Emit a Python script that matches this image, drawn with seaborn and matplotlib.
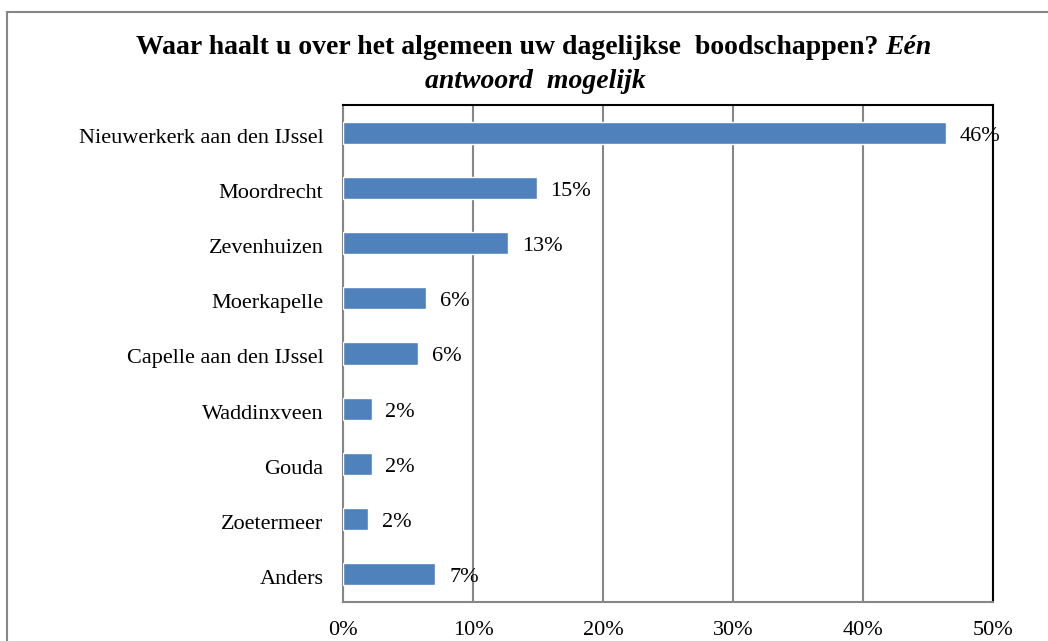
import matplotlib
matplotlib.use("Agg")
import matplotlib.pyplot as plt
import seaborn as sns
import pandas as pd
from matplotlib.patches import Rectangle
from matplotlib.transforms import ScaledTranslation

categories = ["Nieuwerkerk aan den IJssel", "Moordrecht", "Zevenhuizen", "Moerkapelle",
              "Capelle aan den IJssel", "Waddinxveen", "Gouda", "Zoetermeer", "Anders"]
values = [46.4, 14.9, 12.7, 6.4, 5.8, 2.2, 2.2, 1.9, 7.1]
labels = ["46%", "15%", "13%", "6%", "6%", "2%", "2%", "2%", "7%"]
xticks = [0, 10, 20, 30, 40, 50]
xticklabels = ["0%", "10%", "20%", "30%", "40%", "50%"]

df = pd.DataFrame({"cat": categories, "val": values})

sns.set_style("white")
plt.rcParams['font.family'] = ['Liberation Serif', 'DejaVu Serif']
plt.rcParams['text.color'] = 'black'
plt.rcParams['xtick.color'] = 'black'
plt.rcParams['ytick.color'] = 'black'
plt.rcParams['xtick.labelcolor'] = 'black'
plt.rcParams['ytick.labelcolor'] = 'black'

W, H = 1048, 641
fig = plt.figure(figsize=(W / 100, H / 100), dpi=100)
ax = fig.add_axes([343 / W, 1 - 602 / H, (993 - 343) / W, (602 - 105) / H])

sns.barplot(data=df, x="val", y="cat", orient="h", color="#4F81BD", width=0.4,
            saturation=1, ax=ax, zorder=3)

ax.set_xlim(0, 50)
ax.set_ylim(8.5, -0.5)
ax.set_xticks(xticks)
ax.set_xticklabels(xticklabels, fontsize=16)
ax.tick_params(axis="x", pad=14, length=0, labelcolor="black")
ax.tick_params(axis="y", pad=14, length=0, labelsize=16, labelcolor="black")
ax.set_xlabel("")
ax.set_ylabel("")
ax.set_axisbelow(True)
ax.grid(axis="x", color="#868686", linewidth=1.5)
ax.grid(axis="y", visible=False)
for side in ["left", "bottom"]:
    ax.spines[side].set_color("#868686")
    ax.spines[side].set_linewidth(1.5)
for side in ["top", "right"]:
    ax.spines[side].set_color("black")
    ax.spines[side].set_linewidth(1.5)

# nudge y tick labels slightly down
offset = ScaledTranslation(0, -3 / 100, fig.dpi_scale_trans)
for lbl in ax.get_yticklabels():
    lbl.set_transform(lbl.get_transform() + offset)

for i, (v, lab) in enumerate(zip(values, labels)):
    ax.annotate(lab, xy=(v, i), xytext=(10, -2.5), textcoords="offset points",
                va="center", ha="left", fontsize=16, color="black")

# outer chart frame
fig.patches.append(Rectangle((7 / W, -0.1), 1.2, 1 - 12 / H + 0.1, transform=fig.transFigure,
                             fill=False, edgecolor="#868686", linewidth=1.5))

# title with mixed styling
ty1 = 1 - 48 / H
t1 = fig.text(0, ty1, "Waar haalt u over het algemeen uw dagelijkse  boodschappen? ",
              fontsize=20, fontweight="bold", ha="left", va="center", color="black")
t2 = fig.text(0, ty1, "Eén", fontsize=20, fontweight="bold", style="italic",
              ha="left", va="center", color="black")
fig.canvas.draw()
r = fig.canvas.get_renderer()
w1 = t1.get_window_extent(r).width
w2 = t2.get_window_extent(r).width
x0 = (W * 0.5 + 10 - (w1 + w2) / 2)
t1.set_x(x0 / W)
t2.set_x((x0 + w1) / W)
fig.text(535 / W, 1 - 82 / H, "antwoord  mogelijk", fontsize=20, fontweight="bold",
         style="italic", ha="center", va="center", color="black")

fig.savefig("out.png", dpi=100)
